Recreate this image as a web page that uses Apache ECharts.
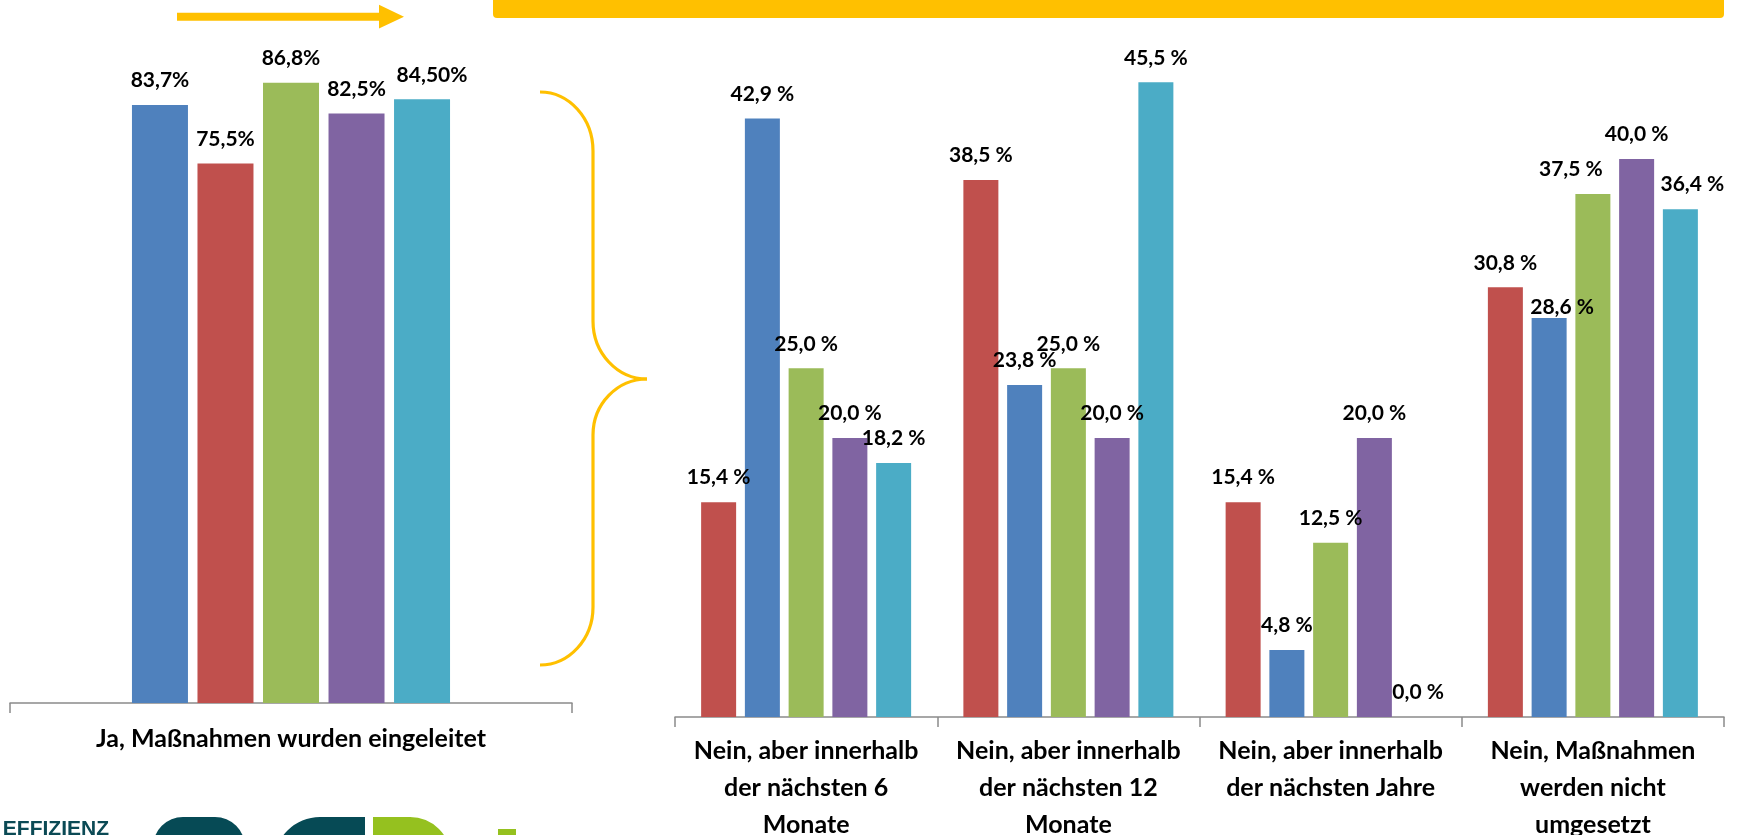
<!DOCTYPE html>
<html>
<head>
<meta charset="utf-8">
<script src="https://cdn.jsdelivr.net/npm/echarts@6/dist/echarts.min.js"></script>
<style>
html,body{margin:0;padding:0;background:#fff;}
#chart{width:1738px;height:835px;}
</style>
</head>
<body>
<div id="chart"></div>
<script>
// ---- data ----
const leftCategories = ['Ja, Maßnahmen wurden eingeleitet'];
const leftSeriesNames = ['S1', 'S2', 'S3', 'S4', 'S5'];
const leftValues = [83.7, 75.5, 86.8, 82.5, 84.5];
const leftLabels = ['83,7%', '75,5%', '86,8%', '82,5%', '84,50%'];

const rightCategories = [
  'Nein, aber innerhalb\nder nächsten 6\nMonate',
  'Nein, aber innerhalb\nder nächsten 12\nMonate',
  'Nein, aber innerhalb\nder nächsten Jahre',
  'Nein, Maßnahmen\nwerden nicht\numgesetzt'
];
const rightRed = [15.4, 38.5, 15.4, 30.8];
const rightBlue = [42.9, 23.8, 4.8, 28.6];
const rightGreen = [25.0, 25.0, 12.5, 37.5];
const rightPurple = [20.0, 20.0, 20.0, 40.0];
const rightTeal = [18.2, 45.5, 0.0, 36.4];

// ---- styles ----
const C = {blue:'#4F81BD', red:'#C0504D', green:'#9BBB59', purple:'#8064A2', teal:'#4BACC6', yellow:'#FFC000'};
const FONT = 'Lato';
const valueLabel = {show:true, position:'top', distance:14, color:'#000', fontFamily:FONT, fontWeight:'bold', fontSize:21};

const leftColors = [C.blue, C.red, C.green, C.purple, C.teal];
const leftNudge = {4:[10,0]};
const leftSeries = leftValues.map((v, i) => ({
  type:'bar', name:leftSeriesNames[i], xAxisIndex:0, yAxisIndex:0,
  barWidth:56, barGap:'17%',
  itemStyle:{color:leftColors[i]},
  label:Object.assign({}, valueLabel, {formatter:() => leftLabels[i], offset:leftNudge[i] || [0,0]}),
  data:[v]
}));

const rightSets = [
  {name:'S2', color:C.red, values:rightRed},
  {name:'S1', color:C.blue, values:rightBlue},
  {name:'S3', color:C.green, values:rightGreen},
  {name:'S4', color:C.purple, values:rightPurple},
  {name:'S5', color:C.teal, values:rightTeal}
];
// label nudges (series index -> category index -> [dx, dy])
const rightNudge = {1:{3:[13,14]}, 2:{3:[-22,0]}, 4:{3:[12,0]}};
const fmt = v => v.toFixed(1).replace('.', ',') + ' %';
const rightSeries = rightSets.map((s, si) => ({
  type:'bar', name:s.name, xAxisIndex:1, yAxisIndex:1,
  barWidth:35, barGap:'25%',
  itemStyle:{color:s.color},
  label:Object.assign({}, valueLabel, {formatter:p => fmt(p.value)}),
  data:s.values.map((v, ci) => {
    const n = rightNudge[si] && rightNudge[si][ci];
    return n ? {value:v, label:{offset:n}} : v;
  })
}));

function catAxis(gridIndex, data, margin) {
  return {
    type:'category', gridIndex, data,
    axisLine:{show:true, lineStyle:{color:'#8a8a8a', width:1.5}},
    axisTick:{show:true, length:10, lineStyle:{color:'#8a8a8a', width:1.5}},
    axisLabel:{interval:0, margin, color:'#000', fontFamily:FONT, fontWeight:'bold', fontSize:25, lineHeight:37, align:'center'},
    splitLine:{show:false}
  };
}

// brace built from quarter-ellipse bezier segments
const K = 0.5523;
function qCurve(x1, y1, x2, y2, horizFirst) {
  const dx = x2 - x1, dy = y2 - y1;
  const shape = horizFirst
    ? {x1, y1, x2, y2, cpx1:x1 + K*dx, cpy1:y1, cpx2:x2, cpy2:y2 - K*dy}
    : {x1, y1, x2, y2, cpx1:x1, cpy1:y1 + K*dy, cpx2:x2 - K*dx, cpy2:y2};
  return {type:'bezierCurve', shape, style:{fill:null, stroke:C.yellow, lineWidth:3.2}};
}
function seg(x1, y1, x2, y2) {
  return {type:'line', shape:{x1, y1, x2, y2}, style:{stroke:C.yellow, lineWidth:3.2}};
}
const brace = [
  qCurve(540, 92, 593, 151, true),
  seg(593, 151, 593, 321),
  qCurve(593, 321, 647, 379, false),
  qCurve(647, 379, 593, 435, true),
  seg(593, 435, 593, 607),
  qCurve(593, 607, 540, 665, false)
];

const chart = echarts.init(document.getElementById('chart'), null, {renderer:'canvas'});
chart.setOption({
  animation:false,
  backgroundColor:'#ffffff',
  grid:[
    {left:10, right:1166, top:60, bottom:132, outerBoundsMode:'none', containLabel:false},
    {left:675, right:14, top:19.5, bottom:118, outerBoundsMode:'none', containLabel:false}
  ],
  xAxis:[catAxis(0, leftCategories, 17), catAxis(1, rightCategories, 15)],
  yAxis:[
    {type:'value', gridIndex:0, min:0, max:90, show:false, splitLine:{show:false}},
    {type:'value', gridIndex:1, min:0, max:50, show:false, splitLine:{show:false}}
  ],
  series:leftSeries.concat(rightSeries),
  graphic:[
    // top banner
    {type:'rect', shape:{x:493, y:-20, width:1231, height:38, r:4}, style:{fill:C.yellow}},
    // arrow
    {type:'polygon', shape:{points:[[177,12.7],[379,12.7],[379,4.7],[404,16.7],[379,28.5],[379,20.7],[177,20.7]]}, style:{fill:C.yellow}},
    ...brace,
    // logo fragments
    {type:'text', x:109, y:819, style:{text:'EFFIZIENZ', fill:'#0b4a55', fontFamily:'Liberation Sans', fontWeight:'bold', fontSize:21, align:'right', verticalAlign:'top'}},
    {type:'rect', shape:{x:153, y:817, width:92, height:60, r:30}, style:{fill:'#064a55'}},
    {type:'rect', shape:{x:171, y:835, width:56, height:40, r:14}, style:{fill:'#ffffff'}},
    {type:'ring', shape:{cx:320, cy:863, r:46, r0:28}, style:{fill:'#064a55'}},
    {type:'rect', shape:{x:320, y:817, width:45, height:18}, style:{fill:'#064a55'}},
    {type:'ring', shape:{cx:410, cy:858, r:41, r0:23}, style:{fill:'#95c11f'}},
    {type:'rect', shape:{x:373, y:817, width:38, height:18}, style:{fill:'#95c11f'}},
    {type:'rect', shape:{x:498, y:829, width:18, height:10}, style:{fill:'#95c11f'}}
  ]
});
</script>
</body>
</html>
